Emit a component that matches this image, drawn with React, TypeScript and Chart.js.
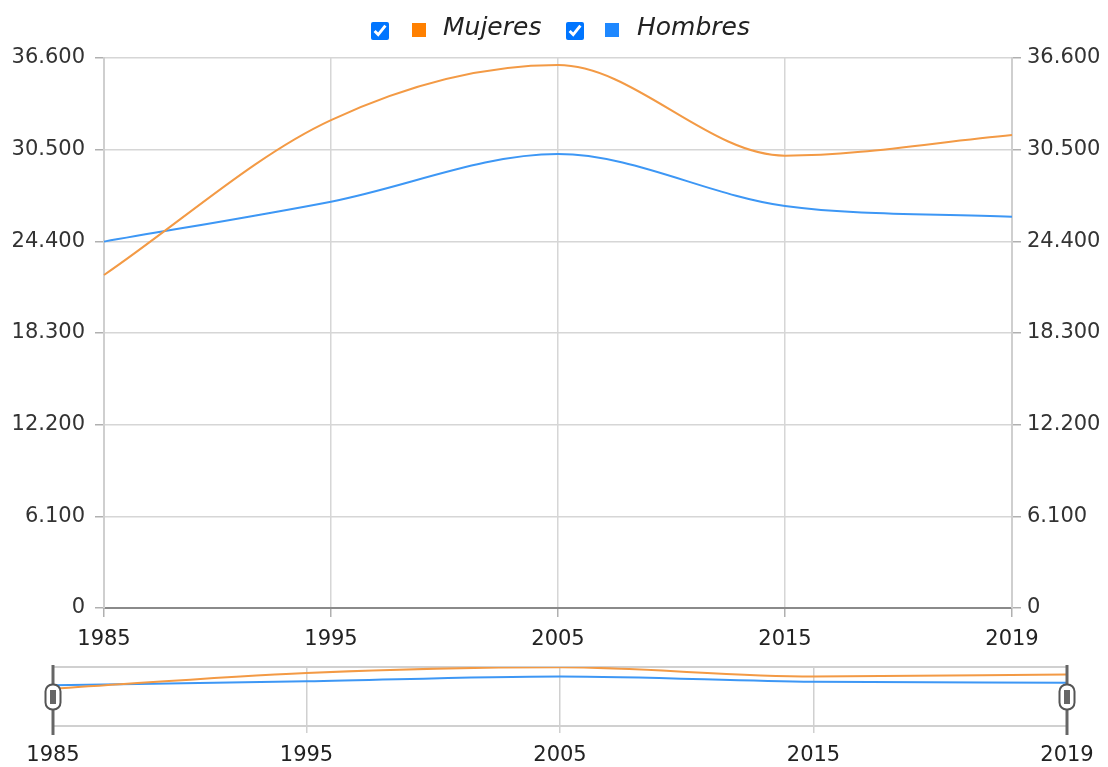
import React, { useEffect, useRef } from "react";
import { Chart, registerables } from "chart.js";

Chart.register(...registerables);

const years = ["1985", "1995", "2005", "2015", "2019"];
const mujeres = [22160, 32470, 36130, 30100, 31480];
const hombres = [24380, 27040, 30210, 26750, 26040];
const yTicks = [0, 6100, 12200, 18300, 24400, 30500, 36600];

const ORANGE_LINE = "#f39a45";
const BLUE_LINE = "#3d97f5";
const ORANGE_KEY = "#ff8000";
const BLUE_KEY = "#1e88ff";
const FONT = "'DejaVu Sans', Verdana, sans-serif";

const fmt = (v: number) =>
  Math.round(v)
    .toString()
    .replace(/\B(?=(\d{3})+(?!\d))/g, ".");

const navPlugin = {
  id: "navHandles",
  beforeDatasetsDraw(chart: any) {
    const { ctx, chartArea } = chart;
    ctx.save();
    ctx.strokeStyle = "#d0d0d0";
    ctx.lineWidth = 2;
    ctx.beginPath();
    ctx.moveTo(chartArea.left, chartArea.top);
    ctx.lineTo(chartArea.right, chartArea.top);
    ctx.stroke();
    ctx.restore();
  },
  afterDraw(chart: any) {
    const { ctx, chartArea } = chart;
    const xs = [chartArea.left, chartArea.right];
    ctx.save();
    for (const x of xs) {
      ctx.strokeStyle = "#666";
      ctx.lineWidth = 3;
      ctx.beginPath();
      ctx.moveTo(x, chartArea.top - 2);
      ctx.lineTo(x, chartArea.bottom + 9);
      ctx.stroke();
      const cy = (chartArea.top + chartArea.bottom) / 2 + 0.5;
      const w = 15;
      const h = 25;
      ctx.beginPath();
      (ctx as any).roundRect(x - w / 2, cy - h / 2, w, h, 7);
      ctx.fillStyle = "#fff";
      ctx.fill();
      ctx.strokeStyle = "#555";
      ctx.lineWidth = 2;
      ctx.stroke();
      ctx.fillStyle = "#666";
      ctx.fillRect(x - 3, cy - 7, 6, 14);
    }
    ctx.restore();
  },
};

export default function App() {
  const mainRef = useRef<HTMLCanvasElement>(null);
  const navRef = useRef<HTMLCanvasElement>(null);

  useEffect(() => {
    document.body.style.margin = "0";
    Chart.defaults.font.family = FONT;
    Chart.defaults.font.size = 21;
    Chart.defaults.color = "#333";

    const yCommon = (position: "left" | "right", drawOnChartArea: boolean, width: number, padding: number) => ({
      type: "linear" as const,
      position,
      min: 0,
      max: 36600,
      afterBuildTicks: (scale: any) => {
        scale.ticks = yTicks.map((v) => ({ value: v }));
      },
      afterFit: (scale: any) => {
        scale.width = width;
      },
      ticks: {
        padding,
        callback: (v: any) => fmt(Number(v)),
        color: "#333",
      },
      grid: {
        drawOnChartArea,
        color: "#d6d6d6",
        tickColor: "#b0b0b0",
        tickLength: 9,
        lineWidth: 1.5,
      },
      border: { color: "#cfcfcf", width: 2 },
    });

    const main = new Chart(mainRef.current!, {
      type: "line",
      data: {
        labels: years,
        datasets: [
          {
            label: "Mujeres",
            data: mujeres,
            borderColor: ORANGE_LINE,
            backgroundColor: ORANGE_KEY,
            borderWidth: 2,
            pointRadius: 0,
            cubicInterpolationMode: "monotone",
            yAxisID: "y",
          },
          {
            label: "Hombres",
            data: hombres,
            borderColor: BLUE_LINE,
            backgroundColor: BLUE_KEY,
            borderWidth: 2,
            pointRadius: 0,
            cubicInterpolationMode: "monotone",
            yAxisID: "y",
          },
        ],
      },
      options: {
        animation: false,
        responsive: false,
        events: [],
        layout: { padding: { top: 58, left: 0, right: 0, bottom: 0 } },
        plugins: { legend: { display: false }, tooltip: { enabled: false }, title: { display: false } },
        scales: {
          x: {
            type: "category",
            offset: false,
            afterFit: (scale: any) => {
              scale.height = 52;
            },
            ticks: { padding: 10, maxRotation: 0, autoSkip: false, color: "#222" },
            grid: { color: "#d6d6d6", tickColor: "#b0b0b0", tickLength: 9, lineWidth: 1.5 },
            border: { color: "#8a8a8a", width: 2 },
          },
          y: yCommon("left", true, 104, 10) as any,
          y2: yCommon("right", false, 96, 6) as any,
        },
      },
    });

    const nav = new Chart(navRef.current!, {
      type: "line",
      data: {
        labels: years,
        datasets: [
          {
            data: mujeres,
            borderColor: ORANGE_LINE,
            borderWidth: 2,
            pointRadius: 0,
            cubicInterpolationMode: "monotone",
          },
          {
            data: hombres,
            borderColor: BLUE_LINE,
            borderWidth: 2,
            pointRadius: 0,
            cubicInterpolationMode: "monotone",
          },
        ],
      },
      options: {
        animation: false,
        responsive: false,
        events: [],
        layout: { padding: { top: 17, left: 53, right: 41, bottom: 0 } },
        plugins: { legend: { display: false }, tooltip: { enabled: false } },
        scales: {
          x: {
            type: "category",
            offset: false,
            afterFit: (scale: any) => {
              scale.height = 41;
            },
            ticks: { padding: 10, maxRotation: 0, autoSkip: false, color: "#222" },
            grid: { color: "#d0d0d0", tickColor: "#d0d0d0", tickLength: 7, lineWidth: 1.5 },
            border: { color: "#d0d0d0", width: 2 },
          },
          y: { display: false, min: -2000, max: 36300 },
        },
      },
      plugins: [navPlugin],
    });

    return () => {
      main.destroy();
      nav.destroy();
    };
  }, []);

  const legendText: React.CSSProperties = {
    position: "absolute",
    top: 14,
    fontFamily: FONT,
    fontStyle: "italic",
    fontSize: 25,
    lineHeight: "25px",
    color: "#222",
    whiteSpace: "nowrap",
  };
  const cb: React.CSSProperties = { position: "absolute", top: 22, width: 18, height: 18, margin: 0 };
  const key = (left: number, bg: string): React.CSSProperties => ({
    position: "absolute",
    left,
    top: 23,
    width: 14,
    height: 14,
    background: bg,
  });

  return (
    <div style={{ position: "fixed", left: 0, top: 0, width: 1108, height: 767, background: "#fff", overflow: "hidden" }}>
      <canvas ref={mainRef} width={1108} height={660} style={{ position: "absolute", left: 0, top: 0 }} />
      <canvas ref={navRef} width={1108} height={117} style={{ position: "absolute", left: 0, top: 650 }} />
      <input type="checkbox" checked readOnly style={{ ...cb, left: 371 }} />
      <div style={key(412, ORANGE_KEY)} />
      <span style={{ ...legendText, left: 443 }}>Mujeres</span>
      <input type="checkbox" checked readOnly style={{ ...cb, left: 566 }} />
      <div style={key(605, BLUE_KEY)} />
      <span style={{ ...legendText, left: 637 }}>Hombres</span>
    </div>
  );
}
